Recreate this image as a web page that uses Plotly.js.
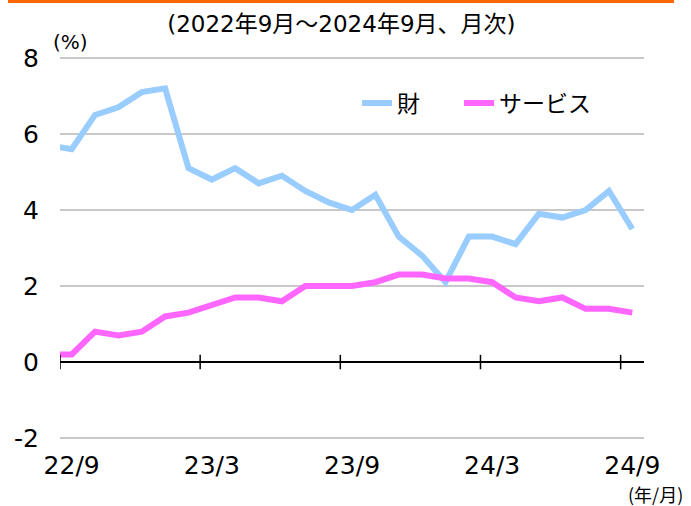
<!DOCTYPE html>
<html>
<head>
<meta charset="utf-8">
<script src="https://cdn.plot.ly/plotly-3.0.1.min.js"></script>
<style>
html,body{margin:0;padding:0;background:#fff;}
#chart{width:691px;height:506px;}
#bar{position:absolute;left:8px;top:0;width:666px;height:3px;background:#FF6600;z-index:5;}
</style>
</head>
<body>
<div id="bar"></div>
<div id="chart"></div>
<script>
// Months (first one, 22/8, lies just left of the visible range and is clipped)
const months = ["22/8","22/9","22/10","22/11","22/12","23/1","23/2","23/3","23/4","23/5","23/6","23/7","23/8",
                "23/9","23/10","23/11","23/12","24/1","24/2","24/3","24/4","24/5","24/6","24/7","24/8","24/9"];
const goods    = [5.7,5.6,6.5,6.7,7.1,7.2,5.1,4.8,5.1,4.7,4.9,4.5,4.2,4.0,4.4,3.3,2.8,2.1,3.3,3.3,3.1,3.9,3.8,4.0,4.5,3.5];
const services = [0.2,0.2,0.8,0.7,0.8,1.2,1.3,1.5,1.7,1.7,1.6,2.0,2.0,2.0,2.1,2.3,2.3,2.2,2.2,2.1,1.7,1.6,1.7,1.4,1.4,1.3];
const tickLabels = ["22/9","23/3","23/9","24/3","24/9"];
const seriesNames = ["財","サービス"];
const yTicks = [-2,0,2,4,6,8];

const FONT = '"DejaVu Sans", "Noto Sans CJK JP", sans-serif';
const CJK = '"Noto Sans CJK JP", sans-serif';
const xIdx = months.map((m,i)=>i);
const tickPos = tickLabels.map(t => months.indexOf(t));

const traces = [
  {x:xIdx, y:goods, name:seriesNames[0], type:'scatter', mode:'lines', legend:'legend',
   line:{color:'#99CCFF', width:6}},
  {x:xIdx, y:services, name:seriesNames[1], type:'scatter', mode:'lines', legend:'legend2',
   line:{color:'#FF66FF', width:6}}
];

// category-boundary tick marks crossing the zero line
const shapes = tickPos.map(p => ({
  type:'line', xref:'x', yref:'y', x0:p-0.5, x1:p-0.5, y0:-0.19, y1:0.19,
  line:{color:'#000', width:1.5}
}));

// plot area: y=8 at 58px, y=-2 at 438px (range padded so edge gridlines are kept)
const PT = 56, PB = 66, PH = 506 - PT - PB;
const py = v => (506 - PB - v) / PH;   // pixel row -> paper fraction
const PL = 60, PW = 584;
const px = v => (v - PL) / PW;

const legendBase = {orientation:'h', y:py(103), xanchor:'left', yanchor:'middle',
  font:{size:23, family:CJK}, bgcolor:'rgba(0,0,0,0)', itemwidth:30};

const layout = {
  width:691, height:506,
  margin:{l:PL, r:691-PL-PW, t:PT, b:PB},
  paper_bgcolor:'#fff', plot_bgcolor:'#fff',
  font:{family:FONT, color:'#000', size:25},
  showlegend:true,
  legend:Object.assign({}, legendBase, {x:px(357)}),
  legend2:Object.assign({}, legendBase, {x:px(459)}),
  title:{text:'(2022年9月～2024年9月、月次)', x:0.494, xref:'container', xanchor:'center',
         y:0.952, yref:'container', yanchor:'middle', font:{size:23, family:FONT, color:'#000'}},
  xaxis:{range:[0.5, months.length-0.5], tickvals:tickPos, ticktext:tickLabels,
         showgrid:false, zeroline:false, showline:false, ticks:'',
         tickfont:{size:25, family:FONT}, ticklabelstandoff:8, fixedrange:true},
  yaxis:{range:[-2.05,8.05], tickvals:yTicks, ticktext:yTicks.map(String),
         showgrid:true, gridcolor:'#C8C8C8', gridwidth:1.5,
         zeroline:true, zerolinecolor:'#000', zerolinewidth:1.5,
         showline:false, ticks:'', tickfont:{size:25, family:FONT}, ticklabelstandoff:20, fixedrange:true},
  shapes:shapes,
  annotations:[
    {text:'(%)', xref:'paper', yref:'paper', x:px(70), y:py(42), xanchor:'center', yanchor:'middle',
     showarrow:false, font:{size:20, family:FONT}},
    {text:'(年/月)', xref:'paper', yref:'paper', x:px(655), y:py(494), xanchor:'center', yanchor:'middle',
     showarrow:false, font:{size:18, family:CJK}}
  ]
};

Plotly.newPlot('chart', traces, layout, {displayModeBar:false, staticPlot:true});
</script>
</body>
</html>
